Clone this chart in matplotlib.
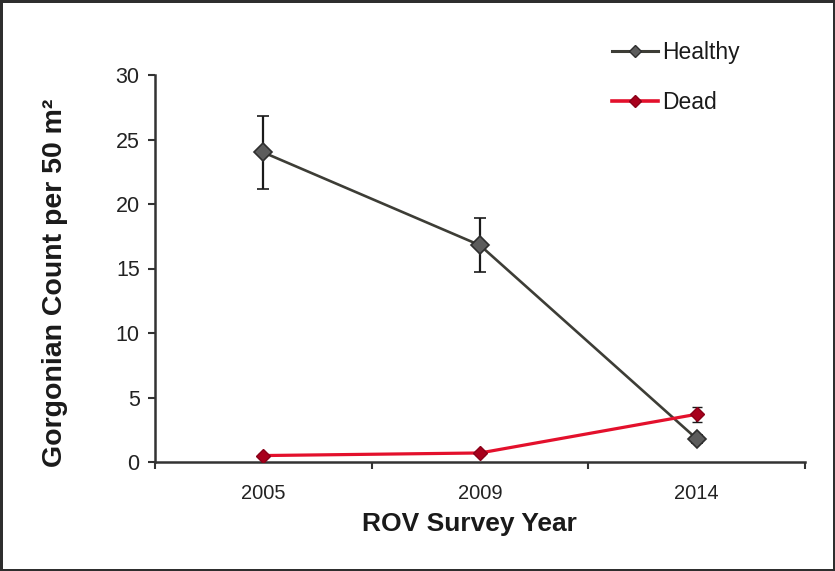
import matplotlib
matplotlib.use("Agg")
import matplotlib.pyplot as plt
from matplotlib.lines import Line2D
from matplotlib.ticker import FixedLocator, NullFormatter, FixedFormatter

plt.rcParams['font.family'] = ['Liberation Sans', 'DejaVu Sans']

years = ["2005", "2009", "2014"]
healthy = [24.0, 16.8, 1.8]
healthy_err = [2.8, 2.1, 0.3]
dead = [0.5, 0.7, 3.7]
dead_err = [0.15, 0.15, 0.6]
yticks = [0, 5, 10, 15, 20, 25, 30]

fig = plt.figure(figsize=(8.35, 5.71), dpi=100, linewidth=2.5, edgecolor='#2e2e2e')
ax = fig.add_axes([155/835, 1-462/571, 650/835, 387/571])

x = list(range(len(years)))

h_color, h_face, h_edge = '#3d3d36', '#5c5c5c', '#2e2e2e'
d_color, d_face, d_edge = '#e3102c', '#a8001c', '#8a0018'

ax.errorbar(x, healthy, yerr=healthy_err, color=h_color, lw=1.9,
            marker='D', markersize=9.5, markerfacecolor=h_face, markeredgecolor=h_edge,
            markeredgewidth=1.2, ecolor='#1a1a1a', elinewidth=1.6, capsize=4.5, capthick=1.6,
            zorder=3)
ax.errorbar(x, dead, yerr=dead_err, color=d_color, lw=2.3,
            marker='D', markersize=7, markerfacecolor=d_face, markeredgecolor=d_edge,
            markeredgewidth=1.0, ecolor='#1a1a1a', elinewidth=1.6, capsize=3.5, capthick=1.6,
            zorder=4)

ax.set_xlim(-0.5, 2.5)
ax.set_ylim(0, 30)
ax.set_yticks(yticks)
ax.set_yticklabels([str(v) for v in yticks])

ax.xaxis.set_major_locator(FixedLocator([-0.5, 0.5, 1.5, 2.5]))
ax.xaxis.set_major_formatter(NullFormatter())
ax.xaxis.set_minor_locator(FixedLocator(x))
ax.xaxis.set_minor_formatter(FixedFormatter(years))
ax.tick_params(axis='x', which='major', direction='out', length=5, width=1.5, color='#333333')
ax.tick_params(axis='x', which='minor', length=0, pad=16, labelsize=14.5, labelcolor='#222222')
ax.tick_params(axis='y', direction='out', length=5, width=1.5, color='#333333', pad=6,
               labelsize=15.5, labelcolor='#222222')

for s in ['top', 'right']:
    ax.spines[s].set_visible(False)
for s in ['left', 'bottom']:
    ax.spines[s].set_linewidth(1.8)
    ax.spines[s].set_color('#333333')

ax.set_xlabel('ROV Survey Year', fontsize=19, fontweight='bold', color='#1a1a1a')
ax.xaxis.set_label_coords((469-155)/650, (462-524)/387)
ax.xaxis.label.set_va('center')
ax.set_ylabel('Gorgonian Count per 50 m²', fontsize=20.5, fontweight='bold', color='#1a1a1a')
ax.yaxis.set_label_coords((55-155)/650, (462-283)/387)
ax.yaxis.label.set_va('center')

handles = [
    Line2D([], [], color=h_color, lw=2.2, marker='D', markersize=6,
           markerfacecolor=h_face, markeredgecolor=h_edge),
    Line2D([], [], color=d_color, lw=2.6, marker='D', markersize=6,
           markerfacecolor=d_face, markeredgecolor=d_edge),
]
leg = fig.legend(handles, ['Healthy', 'Dead'], loc='center left',
                 bbox_to_anchor=(612/835, 1-77.5/571), frameon=False,
                 fontsize=16.5, handlelength=2.0, handletextpad=0.2, labelspacing=1.2,
                 borderpad=0, borderaxespad=0)
for t in leg.get_texts():
    t.set_color('#1a1a1a')

fig.savefig('out.png', dpi=100)
